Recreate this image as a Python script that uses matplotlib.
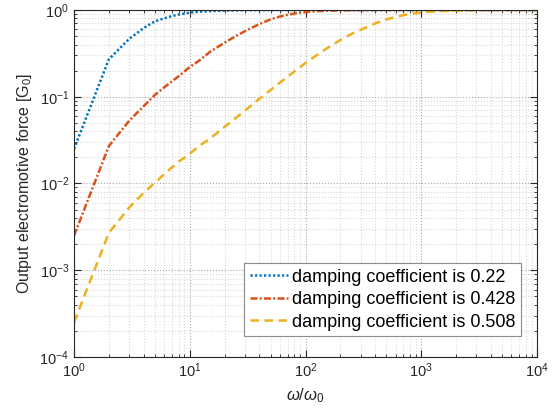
import matplotlib
matplotlib.use("Agg")
import matplotlib.pyplot as plt
from matplotlib.ticker import LogLocator, NullFormatter

plt.rcParams['font.family'] = ['Liberation Sans', 'DejaVu Sans']
plt.rcParams['mathtext.fontset'] = 'custom'
plt.rcParams['mathtext.rm'] = 'Liberation Sans'
plt.rcParams['mathtext.it'] = 'Liberation Sans:italic'

# frequency ratio samples
w_ratio = [1, 2, 3, 4, 5, 6, 7, 8, 10, 12, 15, 20, 25, 30, 40, 50, 60, 70,
           80, 100, 120, 150, 200, 250, 300, 400, 500, 600, 700, 800, 1000,
           1200, 1500, 2000, 3000, 5000, 10000]

# output emf, damping 0.22 / 0.428 / 0.508
emf_022 = [0.025, 0.27, 0.465, 0.62, 0.74, 0.80, 0.85, 0.885, 0.93, 0.955,
           0.97, 0.985, 0.99, 0.994, 0.996, 0.998, 0.998, 0.999, 0.999,
           1.0, 1.0, 1.0, 1.0, 1.0, 1.0, 1.0, 1.0, 1.0, 1.0, 1.0, 1.0,
           1.0, 1.0, 1.0, 1.0, 1.0, 1.0]
emf_0428 = [0.0025, 0.027, 0.053, 0.078, 0.105, 0.128, 0.15, 0.172, 0.22,
            0.26, 0.33, 0.42, 0.50, 0.57, 0.69, 0.78, 0.84, 0.88, 0.91,
            0.945, 0.965, 0.98, 0.99, 0.994, 0.996, 0.998, 0.999, 1.0, 1.0,
            1.0, 1.0, 1.0, 1.0, 1.0, 1.0, 1.0, 1.0]
emf_0508 = [0.00025, 0.0027, 0.0053, 0.0078, 0.0102, 0.0128, 0.0153, 0.0178,
            0.022, 0.027, 0.033, 0.045, 0.057, 0.069, 0.095, 0.12, 0.145,
            0.17, 0.195, 0.245, 0.29, 0.355, 0.45, 0.53, 0.59, 0.70, 0.78,
            0.83, 0.87, 0.90, 0.935, 0.955, 0.97, 0.985, 0.994, 0.998, 1.0]

labels = ['damping coefficient is 0.22',
          'damping coefficient is 0.428',
          'damping coefficient is 0.508']

fig = plt.figure(figsize=(5.54, 4.16), dpi=100)
ax = fig.add_axes([0.1336, 0.1418, 0.8357, 0.8342])

l1, = ax.loglog(w_ratio, emf_022, color='#0072BD', lw=1.8, label=labels[0])
l1.set_dashes([0.9, 0.9])
l2, = ax.loglog(w_ratio, emf_0428, color='#D95319', lw=1.8, label=labels[1])
l2.set_dashes([2.8, 0.9, 0.8, 0.9])
l3, = ax.loglog(w_ratio, emf_0508, color='#EDB120', lw=1.8, label=labels[2])
l3.set_dashes([3.4, 2.2])

ax.set_xlim(1, 1e4)
ax.set_ylim(1e-4, 1)
ax.xaxis.set_major_locator(LogLocator(base=10, numticks=10))
ax.yaxis.set_major_locator(LogLocator(base=10, numticks=10))
ax.xaxis.set_minor_locator(LogLocator(base=10, subs=range(2, 10), numticks=20))
ax.yaxis.set_minor_locator(LogLocator(base=10, subs=range(2, 10), numticks=20))
ax.xaxis.set_minor_formatter(NullFormatter())
ax.yaxis.set_minor_formatter(NullFormatter())

ax.grid(True, which='major', ls=':', color='#a8a8a8', lw=0.8)
ax.grid(True, which='minor', ls=':', color='#d8d8d8', lw=0.8)

ax.tick_params(which='both', direction='in', top=True, right=True,
               colors='#262626', labelsize=10.5, labelcolor='#262626')
ax.tick_params(which='major', length=5)
ax.tick_params(which='minor', length=2.5)
for s in ax.spines.values():
    s.set_color('#262626')
    s.set_linewidth(0.8)

ax.set_xlabel(r'$\omega/\omega_0$', fontsize=12, color='#262626')
ax.set_ylabel(r'Output electromotive force [G$_0$]', fontsize=11.5,
              color='#262626')

leg = ax.legend(loc='lower right', bbox_to_anchor=(0.9654, 0.0605),
                borderaxespad=0, fontsize=13, fancybox=False,
                framealpha=1, edgecolor='#8c8c8c', handlelength=2.15,
                handletextpad=0.2, borderpad=0.3, labelspacing=0.3)
leg.get_frame().set_linewidth(0.8)

fig.savefig('out.png', dpi=100)
